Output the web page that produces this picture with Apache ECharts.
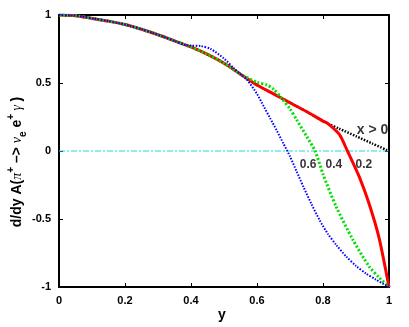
<!DOCTYPE html>
<html><head><meta charset="utf-8">
<script src="https://cdn.jsdelivr.net/npm/echarts@6/dist/echarts.min.js"></script>
<style>html,body{margin:0;padding:0;background:#fff}#c{width:409px;height:327px}</style>
</head><body><div id="c"></div>
<script>
const xTicks = [0, 0.2, 0.4, 0.6, 0.8, 1];
const yTicks = [-1, -0.5, 0, 0.5, 1];

// black dotted "x > 0"
const baseX = [0, 0.05, 0.1, 0.15, 0.2, 0.25, 0.3, 0.35, 0.4, 0.45, 0.5, 0.55, 0.6, 0.65, 0.7, 0.75, 0.8, 0.816, 0.85, 0.9, 0.95, 1.0];
const baseY = [1, 0.995, 0.975, 0.955, 0.93, 0.895, 0.855, 0.81, 0.765, 0.71, 0.645, 0.565, 0.485, 0.42, 0.355, 0.29, 0.22, 0.2, 0.163, 0.109, 0.054, 0];

// red solid, x = 0.2
const redX = [0, 0.05, 0.1, 0.15, 0.2, 0.25, 0.3, 0.35, 0.4, 0.45, 0.5, 0.55, 0.6, 0.65, 0.7, 0.75, 0.8, 0.816, 0.85, 0.874, 0.91, 0.94, 0.97, 1.0];
const redY = [1, 0.995, 0.975, 0.955, 0.93, 0.895, 0.855, 0.81, 0.765, 0.71, 0.645, 0.565, 0.485, 0.42, 0.355, 0.29, 0.22, 0.2, 0.12, 0, -0.19, -0.39, -0.64, -1];

// green dotted, x = 0.4
const greenX = [0, 0.05, 0.1, 0.15, 0.2, 0.25, 0.3, 0.35, 0.4, 0.45, 0.5, 0.55, 0.57, 0.6, 0.63, 0.65, 0.675, 0.7, 0.72, 0.75, 0.776, 0.8, 0.84, 0.89, 0.94, 0.97, 1.0];
const greenY = [1, 0.995, 0.975, 0.955, 0.93, 0.895, 0.855, 0.81, 0.765, 0.71, 0.645, 0.565, 0.54, 0.505, 0.485, 0.455, 0.387, 0.31, 0.23, 0.11, 0, -0.17, -0.41, -0.65, -0.85, -0.93, -1];

// blue dotted, x = 0.6
const blueX = [0, 0.05, 0.1, 0.15, 0.2, 0.25, 0.3, 0.35, 0.38, 0.4, 0.43, 0.46, 0.5, 0.53, 0.57, 0.6, 0.62, 0.64, 0.66, 0.68, 0.7, 0.72, 0.74, 0.765, 0.79, 0.815, 0.84, 0.87, 0.9, 0.93, 0.96, 1.0];
const blueY = [1, 0.995, 0.975, 0.955, 0.93, 0.895, 0.855, 0.81, 0.78, 0.775, 0.772, 0.75, 0.68, 0.608, 0.522, 0.42, 0.33, 0.24, 0.15, 0.055, -0.04, -0.15, -0.26, -0.39, -0.51, -0.61, -0.69, -0.775, -0.845, -0.9, -0.945, -1];

const zeroX = [0, 1];
const zeroY = [0, 0];

const labelText = ['x > 0', '0.6', '0.4', '0.2'];
const labelX = [0.95, 0.755, 0.833, 0.924];
const labelY = [0.155, -0.103, -0.103, -0.103];

const zip = (xs, ys) => xs.map((x, i) => [x, ys[i]]);
const FONT = 'Liberation Sans, Arial, sans-serif';
const tickFont = {fontFamily: FONT, fontWeight: 'bold', fontSize: 11, color: '#000'};
const axLine = {show: true, onZero: false, lineStyle: {color: '#000', width: 2}};
const axTick = {show: true, inside: true, length: 4, lineStyle: {color: '#000', width: 1}};

const chart = echarts.init(document.getElementById('c'), null, {renderer: 'canvas'});
chart.setOption({
  animation: false,
  backgroundColor: '#fff',
  grid: {left: 59, right: 20, top: 15, bottom: 40},
  xAxis: [
    {type: 'value', min: xTicks[0], max: xTicks[xTicks.length - 1], interval: 0.2,
     axisLine: axLine, axisTick: axTick,
     axisLabel: Object.assign({margin: 8}, tickFont), splitLine: {show: false}},
    {type: 'value', position: 'top', min: 0, max: 1, interval: 0.2,
     axisLine: axLine, axisTick: axTick, axisLabel: {show: false}, splitLine: {show: false}}
  ],
  yAxis: [
    {type: 'value', min: yTicks[0], max: yTicks[yTicks.length - 1], interval: 0.5,
     axisLine: axLine, axisTick: axTick,
     axisLabel: Object.assign({margin: 8}, tickFont), splitLine: {show: false}},
    {type: 'value', position: 'right', min: -1, max: 1, interval: 0.5,
     axisLine: axLine, axisTick: axTick, axisLabel: {show: false}, splitLine: {show: false}}
  ],
  series: [
    {type: 'line', data: zip(zeroX, zeroY), symbol: 'none', z: 1,
     lineStyle: {color: '#22d8e8', width: 1.2, type: [6, 2, 2, 2]}},
    {type: 'line', data: zip(baseX, baseY), symbol: 'none', smooth: 0.25, z: 2,
     lineStyle: {color: '#000', width: 2.5, type: [1.5, 1.5]}},
    {type: 'line', data: zip(redX, redY), symbol: 'none', smooth: 0.25, z: 3,
     lineStyle: {color: '#ff0000', width: 3}},
    {type: 'line', data: zip(greenX, greenY), symbol: 'none', smooth: 0.25, z: 4,
     lineStyle: {color: '#00e000', width: 3, type: [2, 2]}},
    {type: 'line', data: zip(blueX, blueY), symbol: 'none', smooth: 0.25, z: 5,
     lineStyle: {color: '#0000ff', width: 2, type: [1.5, 1.5]}},
    {type: 'scatter', z: 6, silent: true, symbolSize: 1,
     itemStyle: {color: 'rgba(0,0,0,0)'},
     data: labelX.map((x, i) => ({value: [x, labelY[i]], name: labelText[i],
       label: {fontSize: i === 0 ? 14 : 12}})),
     label: {show: true, position: 'inside', formatter: p => p.name,
       fontFamily: FONT, fontWeight: 'bold', color: '#000'}}
  ],
  graphic: [
    {type: 'text', left: 218, top: 308,
     style: {text: 'y', font: 'bold 14px Liberation Sans, Arial, sans-serif', fill: '#000'}},
    {type: 'text', x: 17, y: 162, rotation: Math.PI / 2,
     style: {
       text: '{b|d/dy A(}{g|π}{s|+}{b| –> }{g|ν}{d|e}{b| e}{s|+}{g| γ }{b|)}',
       align: 'center', verticalAlign: 'middle',
       rich: {
         b: {fontFamily: FONT, fontWeight: 'bold', fontSize: 14, lineHeight: 22, fill: '#000'},
         g: {fontFamily: 'Liberation Serif, serif', fontStyle: 'italic', fontSize: 14, lineHeight: 22, fill: '#000'},
         s: {fontFamily: FONT, fontWeight: 'bold', fontSize: 10, verticalAlign: 'top', fill: '#000'},
         d: {fontFamily: FONT, fontWeight: 'bold', fontSize: 10, verticalAlign: 'bottom', fill: '#000'}
       }
     }}
  ]
});
</script></body></html>
